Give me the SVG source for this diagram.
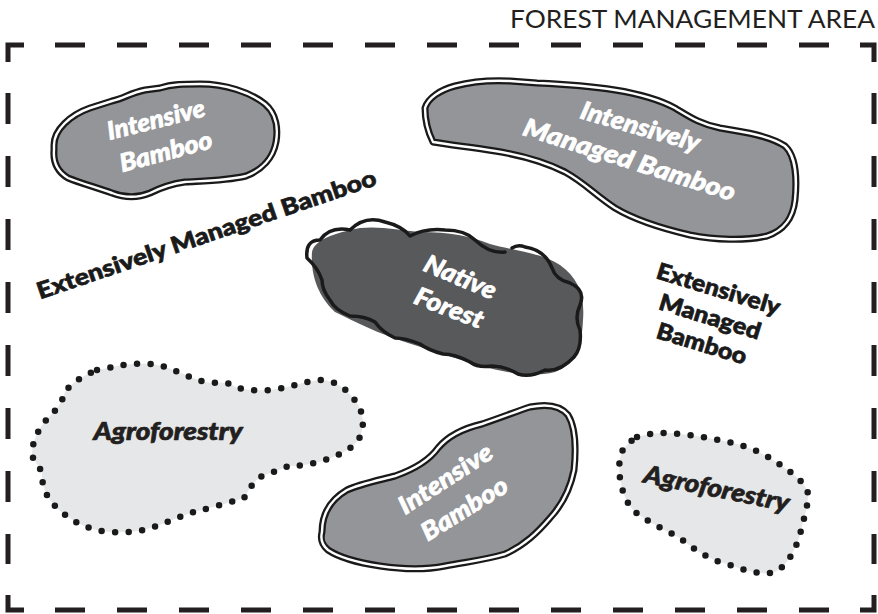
<svg xmlns="http://www.w3.org/2000/svg" width="878" height="614" viewBox="0 0 878 614">
<style>
.border{fill:none;stroke:#231f20;stroke-width:5}
.ibOuter{fill:#939598;stroke:#1a1a1a;stroke-width:7;stroke-linejoin:round}
.ibInner{fill:none;stroke:#ffffff;stroke-width:2.4;stroke-linejoin:round}
.nfFill{fill:#58595b}
.nfLine{fill:none;stroke:#1a1a1a;stroke-width:3.5;stroke-linejoin:round;stroke-linecap:round}
.agro{fill:#e6e7e8;stroke:#1a1a1a;stroke-width:6.5;stroke-linecap:round;stroke-dasharray:0 13.5}
.lbl{font-family:Lato,"Open Sans","Liberation Sans",sans-serif;font-weight:900;font-style:italic;font-size:25px;fill:#ffffff;stroke:#ffffff;stroke-width:0.7;text-anchor:middle}
.dark{fill:#231f20;stroke:#231f20}
.ext{font-family:Lato,"Open Sans","Liberation Sans",sans-serif;font-weight:900;font-size:23px;fill:#1a1a1a;stroke:#1a1a1a;stroke-width:0.7;text-anchor:middle}
.title{font-family:Lato,"Open Sans","Liberation Sans",sans-serif;font-weight:400;font-size:25px;fill:#231f20;text-anchor:end}
</style>

<g id="area-border">
  <text class="title" x="875" y="28" textLength="365" lengthAdjust="spacingAndGlyphs">FOREST MANAGEMENT AREA</text>
  <path class="border" d="M8,62 V45 H24 M860,45 H874 V62 M8,595 V610 H24 M860,610 H874 V595"/>
  <path class="border" d="M55,45 H829 M55,610 H829" stroke-dasharray="30 32"/>
  <path class="border" d="M8,93 V564 M874,93 V564" stroke-dasharray="31 32"/>
</g>

<g id="intensive-bamboo-1">
  <path class="ibOuter" d="M54,145 C54,130 70,115 90,108 L112,101 C125,98 130,93 145,90 L160,88 C172,84 185,84 200,84 C225,84 250,92 265,104 C277,114 278,130 276,142 C273,158 262,170 246,176 C225,181 200,181 185,182 C170,184 160,188 150,193 C138,198 125,198 112,193 C95,187 80,183 68,178 C58,172 53,162 54,150 Z"/>
  <path class="ibInner" d="M54,145 C54,130 70,115 90,108 L112,101 C125,98 130,93 145,90 L160,88 C172,84 185,84 200,84 C225,84 250,92 265,104 C277,114 278,130 276,142 C273,158 262,170 246,176 C225,181 200,181 185,182 C170,184 160,188 150,193 C138,198 125,198 112,193 C95,187 80,183 68,178 C58,172 53,162 54,150 Z"/>
  <text class="lbl" transform="translate(158,128) rotate(-14)" textLength="100" lengthAdjust="spacingAndGlyphs">Intensive</text>
  <text class="lbl" transform="translate(168,160) rotate(-15)" textLength="95" lengthAdjust="spacingAndGlyphs">Bamboo</text>
</g>

<g id="intensively-managed-bamboo">
  <path class="ibOuter" d="M425,108 C428,98 440,90 455,86 C470,82 490,80 510,81 L537,83 C560,84 590,86 615,90 C640,94 660,100 675,108 C690,117 700,124 720,128 C745,132 770,136 785,146 C796,156 797,180 795,200 C793,218 785,230 767,236 C745,241 715,240 690,235 C660,228 635,220 615,208 C595,195 585,183 565,172 C545,162 520,155 495,151 C470,147 450,145 433,142 C428,132 425,120 425,108 Z"/>
  <path class="ibInner" d="M425,108 C428,98 440,90 455,86 C470,82 490,80 510,81 L537,83 C560,84 590,86 615,90 C640,94 660,100 675,108 C690,117 700,124 720,128 C745,132 770,136 785,146 C796,156 797,180 795,200 C793,218 785,230 767,236 C745,241 715,240 690,235 C660,228 635,220 615,208 C595,195 585,183 565,172 C545,162 520,155 495,151 C470,147 450,145 433,142 C428,132 425,120 425,108 Z"/>
  <text class="lbl" transform="translate(638,135) rotate(16)" textLength="123" lengthAdjust="spacingAndGlyphs">Intensively</text>
  <text class="lbl" transform="translate(627,168) rotate(17.5)" textLength="221" lengthAdjust="spacingAndGlyphs">Managed Bamboo</text>
</g>

<g id="native-forest">
  <path class="nfFill" d="M312,252 C315,238 340,232 360,228 C380,226 400,230 420,232 C450,232 470,236 490,244 C510,250 540,252 560,265 C578,278 585,295 583,320 C582,345 575,365 555,372 C530,378 505,372 480,366 C455,358 430,350 405,342 C380,334 355,322 335,312 C322,300 310,280 312,252 Z"/>
  <path class="nfLine" d="M512,248 Q518,244 525,247 Q545,250 552,268 Q556,280 570,283 Q586,290 580,305 Q574,318 580,330 Q582,348 574,357 Q560,372 545,370 Q530,378 518,374 Q505,366 492,366 Q478,368 470,362 Q455,354 443,354 Q428,350 420,344 Q405,338 395,338 Q382,332 375,322 Q365,316 350,316 Q335,310 330,300 Q322,290 322,280 Q318,268 307,258 Q305,240 320,240 Q330,226 350,230 Q365,215 385,222 Q402,226 410,236 Q425,228 445,230 Q465,230 475,240 Q490,254 505,252"/>
  <text class="lbl" transform="translate(457,285) rotate(23)" textLength="76" lengthAdjust="spacingAndGlyphs">Native</text>
  <text class="lbl" transform="translate(446,316) rotate(21)" textLength="72" lengthAdjust="spacingAndGlyphs">Forest</text>
</g>

<g id="intensive-bamboo-2">
  <path class="ibOuter" d="M322,532 C322,515 330,500 347,490 C360,484 380,480 395,476 C412,470 428,462 438,448 C448,436 465,428 482,424 C500,418 515,412 530,407 C545,404 560,405 568,415 C576,428 576,450 574,470 C570,490 562,505 550,518 C538,532 525,545 505,554 C485,560 465,562 445,566 C425,570 400,569 380,566 C360,563 340,558 328,550 C322,545 320,540 322,532 Z"/>
  <path class="ibInner" d="M322,532 C322,515 330,500 347,490 C360,484 380,480 395,476 C412,470 428,462 438,448 C448,436 465,428 482,424 C500,418 515,412 530,407 C545,404 560,405 568,415 C576,428 576,450 574,470 C570,490 562,505 550,518 C538,532 525,545 505,554 C485,560 465,562 445,566 C425,570 400,569 380,566 C360,563 340,558 328,550 C322,545 320,540 322,532 Z"/>
  <text class="lbl" transform="translate(450,486) rotate(-33)" textLength="107" lengthAdjust="spacingAndGlyphs">Intensive</text>
  <text class="lbl" transform="translate(469,516) rotate(-32)" textLength="97" lengthAdjust="spacingAndGlyphs">Bamboo</text>
</g>

<g id="agroforestry-1">
  <path class="agro" d="M97,370 C110,368 115,366 123,365 C140,363 155,363 165,367 C178,371 190,378 205,382 C215,384 225,381 232,385 C240,390 255,391 270,390 C290,388 305,381 320,380 C335,380 345,388 353,398 C362,408 366,422 360,437 C354,448 340,455 325,460 C310,465 298,466 288,466 C280,470 270,473 262,476 C252,482 248,492 244,498 C228,503 210,508 194,512 C175,518 160,526 143,530 C128,533 110,533 97,530 C80,526 68,518 57,508 C47,498 42,488 42,474 C40,466 34,462 32,455 C32,440 40,426 50,416 C58,408 63,400 65,392 C70,385 78,378 97,370 Z"/>
  <text class="lbl dark" x="168" y="440" font-size="26" textLength="149" lengthAdjust="spacingAndGlyphs">Agroforestry</text>
</g>

<g id="agroforestry-2">
  <path class="agro" d="M637,437 C650,433 665,432 680,434 C700,436 720,440 737,444 C755,449 770,457 782,466 C795,475 808,485 808,495 C808,508 803,520 800,535 C795,550 788,565 775,572 C760,576 745,570 727,564 C710,560 695,550 680,538 C665,530 648,522 635,512 C625,502 622,490 620,478 C618,465 620,452 625,447 C630,442 633,439 637,437 Z"/>
  <text class="lbl dark" transform="translate(715,497) rotate(11.5)" textLength="148" lengthAdjust="spacingAndGlyphs">Agroforestry</text>
</g>

<g id="extensive-bamboo-left">
  <text class="ext" transform="translate(209,242) rotate(-18.8)" font-size="24" textLength="357" lengthAdjust="spacingAndGlyphs">Extensively Managed Bamboo</text>
</g>

<g id="extensive-bamboo-right" transform="translate(655,278) rotate(17)">
  <text class="ext" x="64" y="0" textLength="128" lengthAdjust="spacingAndGlyphs">Extensively</text>
  <text class="ext" x="64" y="29" textLength="105" lengthAdjust="spacingAndGlyphs">Managed</text>
  <text class="ext" x="64" y="57" textLength="93" lengthAdjust="spacingAndGlyphs">Bamboo</text>
</g>

<g id="connectors"></g>
</svg>
